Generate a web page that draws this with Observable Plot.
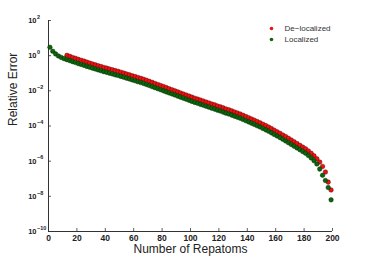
<!DOCTYPE html>
<html>
<head>
<meta charset="utf-8">
<script src="https://cdn.jsdelivr.net/npm/d3@7"></script>
<script src="https://cdn.jsdelivr.net/npm/@observablehq/plot@0.6"></script>
<style>
  html, body { margin: 0; padding: 0; background: #fff; }
  svg { font-family: "Liberation Sans", Arial, sans-serif; }
</style>
</head>
<body>
<div id="chart"></div>
<script>
// Number of repatoms (x) for each series
const localizedN = [1,3,5,7,9,11,13,15,17,19,21,23,25,27,29,31,33,35,37,39,41,43,45,47,49,51,53,55,57,59,61,63,65,67,69,71,73,75,77,79,81,83,85,87,89,91,93,95,97,99,101,103,105,107,109,111,113,115,117,119,121,123,125,127,129,131,133,135,137,139,141,143,145,147,149,151,153,155,157,159,161,163,165,167,169,171,173,175,177,179,181,183,185,187,189,191,193,195,197,199];
// log10 of relative error
const localizedLog10 = [0.48,0.25,0.10,-0.02,-0.10,-0.17,-0.23,-0.28,-0.34,-0.39,-0.45,-0.50,-0.55,-0.61,-0.66,-0.71,-0.76,-0.81,-0.86,-0.91,-0.95,-1.00,-1.04,-1.09,-1.13,-1.18,-1.23,-1.28,-1.33,-1.38,-1.43,-1.48,-1.53,-1.58,-1.64,-1.70,-1.76,-1.82,-1.88,-1.94,-2.00,-2.06,-2.12,-2.18,-2.24,-2.30,-2.36,-2.42,-2.48,-2.54,-2.60,-2.66,-2.71,-2.77,-2.82,-2.88,-2.93,-2.99,-3.04,-3.10,-3.15,-3.21,-3.27,-3.32,-3.38,-3.44,-3.50,-3.56,-3.63,-3.70,-3.77,-3.84,-3.91,-3.99,-4.06,-4.14,-4.22,-4.30,-4.39,-4.48,-4.57,-4.66,-4.75,-4.85,-4.95,-5.05,-5.15,-5.25,-5.35,-5.45,-5.55,-5.68,-5.82,-5.98,-6.16,-6.45,-6.80,-7.10,-7.50,-8.20];

const delocalizedN = [13,15,17,19,21,23,25,27,29,31,33,35,37,39,41,43,45,47,49,51,53,55,57,59,61,63,65,67,69,71,73,75,77,79,81,83,85,87,89,91,93,95,97,99,101,103,105,107,109,111,113,115,117,119,121,123,125,127,129,131,133,135,137,139,141,143,145,147,149,151,153,155,157,159,161,163,165,167,169,171,173,175,177,179,181,183,185,187,189,191,193,195,197,199];
const delocalizedLog10 = [0.02,-0.04,-0.10,-0.15,-0.21,-0.26,-0.31,-0.37,-0.42,-0.47,-0.52,-0.57,-0.62,-0.67,-0.71,-0.76,-0.80,-0.85,-0.89,-0.94,-0.99,-1.04,-1.09,-1.14,-1.19,-1.24,-1.29,-1.34,-1.40,-1.46,-1.52,-1.58,-1.64,-1.70,-1.76,-1.82,-1.88,-1.94,-2.00,-2.06,-2.12,-2.18,-2.24,-2.30,-2.36,-2.42,-2.47,-2.53,-2.58,-2.64,-2.69,-2.75,-2.80,-2.86,-2.91,-2.97,-3.03,-3.08,-3.14,-3.20,-3.26,-3.32,-3.39,-3.46,-3.53,-3.60,-3.67,-3.75,-3.82,-3.90,-3.98,-4.06,-4.15,-4.24,-4.33,-4.42,-4.51,-4.60,-4.70,-4.80,-4.90,-5.00,-5.10,-5.20,-5.30,-5.42,-5.55,-5.70,-5.86,-6.05,-6.30,-6.62,-7.19,-7.64];

const xTicks = [0,20,40,60,80,100,120,140,160,180,200];
const yTicks = [1e2,1e0,1e-2,1e-4,1e-6,1e-8,1e-10];
const yTickBase = "10";
const yTickExponents = ["2","0","\u22122","\u22124","\u22126","\u22128","\u221210"];
const seriesNames = ["De\u2212localized","Localized"];

const localized = localizedN.map((n,i) => ({n, err: Math.pow(10, localizedLog10[i])}));
const delocalized = delocalizedN.map((n,i) => ({n, err: Math.pow(10, delocalizedLog10[i])}));

const W = 368, H = 260, mL = 48, mR = 36, mT = 20, mB = 29;
const innerW = W - mL - mR, innerH = H - mT - mB;
const red = "#ee1111", green = "#0c640c";

const chart = Plot.plot({
  width: W, height: H,
  marginLeft: mL, marginRight: mR, marginTop: mT, marginBottom: mB,
  style: {fontFamily: "Liberation Sans, Arial, sans-serif", background: "#fff", overflow: "visible"},
  x: {domain: [0, 200]},
  y: {type: "log", domain: [1e-10, 1e2], axis: null},
  marks: [
    Plot.axisX(xTicks, {tickSize: 0, tickPadding: 3, fontSize: 8.5, fontWeight: "bold", fill: "#222", label: null}),
    // y tick labels: "10" with superscript exponent
    Plot.text(yTicks, {y: d => d, text: () => yTickBase, frameAnchor: "left", dx: -12, textAnchor: "end", lineAnchor: "middle", fontSize: 7.5, fontWeight: "bold", fill: "#222"}),
    Plot.text(yTicks, {y: d => d, text: (d, i) => yTickExponents[i], frameAnchor: "left", dx: -11.5, dy: -3.5, textAnchor: "start", lineAnchor: "middle", fontSize: 5.5, fontWeight: "bold", fill: "#222"}),
    Plot.tickX(xTicks, {x: d => d, insetTop: innerH - 3, stroke: "#333", strokeWidth: 0.8}),
    Plot.tickY(yTicks, {y: d => d, insetRight: innerW - 3, stroke: "#333", strokeWidth: 0.8}),
    Plot.ruleX([0], {stroke: "#333", strokeWidth: 1}),
    Plot.ruleY([1e-10], {stroke: "#333", strokeWidth: 1}),
    Plot.dot(delocalized, {x: "n", y: "err", r: 2.3, fill: red, stroke: "#400000", strokeWidth: 0.4}),
    Plot.dot(localized, {x: "n", y: "err", r: 2.3, fill: green, stroke: "#002000", strokeWidth: 0.4}),
    // legend
    Plot.dot([seriesNames[0]], {frameAnchor: "top-left", dx: 223, dy: 8, r: 1.8, fill: red}),
    Plot.dot([seriesNames[1]], {frameAnchor: "top-left", dx: 223, dy: 19, r: 1.8, fill: green}),
    Plot.text([seriesNames[0]], {text: d => d, frameAnchor: "top-left", dx: 236, dy: 8, textAnchor: "start", lineAnchor: "middle", fontSize: 8, fill: "#333"}),
    Plot.text([seriesNames[1]], {text: d => d, frameAnchor: "top-left", dx: 236, dy: 19, textAnchor: "start", lineAnchor: "middle", fontSize: 8, fill: "#333"}),
    // axis titles
    Plot.text(["Number of Repatoms"], {text: d => d, frameAnchor: "bottom", dy: 18, lineAnchor: "middle", fontSize: 12, fill: "#222"}),
    Plot.text(["Relative Error"], {text: d => d, frameAnchor: "left", dx: -35, rotate: -90, lineAnchor: "middle", fontSize: 12, fill: "#222"})
  ]
});
document.getElementById("chart").appendChild(chart);
</script>
</body>
</html>
